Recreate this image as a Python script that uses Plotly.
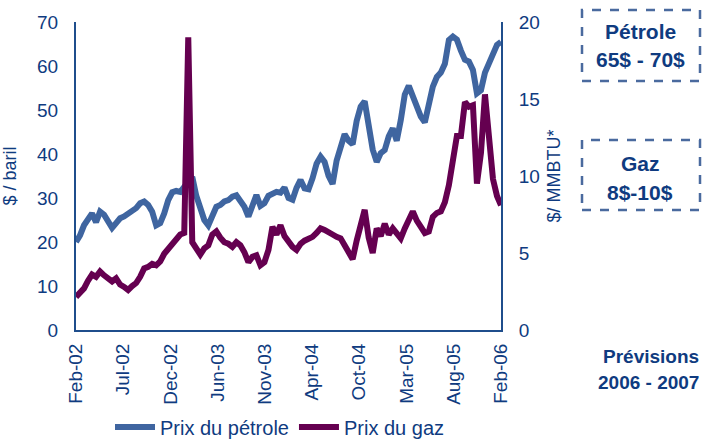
import plotly.graph_objects as go

# ---- data ----
tick_labels = ["Feb-02", "Jul-02", "Dec-02", "Jun-03", "Nov-03", "Apr-04",
               "Oct-04", "Mar-05", "Aug-05", "Feb-06"]

oil = [20.0, 21.5, 23.8, 25.2, 26.5, 24.5, 26.9, 26.2, 24.6, 23.2,
       24.3, 25.4, 25.8, 26.5, 26.9, 27.7, 28.8, 29.2, 28.4, 26.9,
       23.8, 24.3, 26.5, 29.5, 31.3, 31.6, 31.4, 32.4, 33.5, 34.8,
       30.5, 27.2, 25.0, 23.8, 26.4, 28.0, 28.4, 29.2, 29.5, 30.3,
       30.6, 29.5, 28.0, 25.8, 28.4, 30.7, 28.2, 28.8, 30.5, 31.1,
       31.4, 31.2, 32.4, 30.0, 29.6, 32.3, 34.1, 32.2, 32.0, 34.5,
       37.8, 39.4, 38.2, 35.0, 33.2, 38.5, 41.7, 44.5, 43.0, 42.2,
       47.5, 50.8, 52.0, 46.5, 41.0, 38.2, 40.2, 40.9, 44.0, 45.8,
       43.0, 47.7, 53.5, 55.5, 53.0, 51.0, 48.5, 47.2, 51.0, 55.3,
       57.5, 58.5, 60.5, 65.9, 66.7, 66.0, 63.5, 61.4, 61.0, 59.1,
       53.8, 54.5, 58.5, 60.6, 62.9, 64.8, 65.5]

gas = [2.15, 2.4, 2.7, 3.2, 3.6, 3.45, 3.8, 3.55, 3.3, 3.15,
       3.35, 2.95, 2.8, 2.6, 2.85, 3.05, 3.45, 4.0, 4.1, 4.3,
       4.2, 4.45, 4.95, 5.3, 5.6, 5.9, 6.2, 6.3, 19.0, 5.7,
       5.3, 4.9, 5.3, 5.5, 6.2, 6.4, 6.0, 5.7, 5.6, 5.4,
       5.7, 5.5, 5.05, 4.4, 4.75, 4.85, 4.2, 4.4, 5.2, 6.7,
       6.2, 6.8, 6.1, 5.7, 5.4, 5.2, 5.6, 5.8, 5.9, 6.05,
       6.3, 6.6, 6.5, 6.3, 6.2, 6.05, 5.95, 5.5, 5.1, 4.6,
       5.8, 6.7, 7.8, 6.0, 5.0, 6.6, 6.1, 6.9, 6.2, 6.6,
       6.2, 5.95, 6.6, 7.1, 7.7, 7.1, 6.6, 6.3, 6.4, 7.35,
       7.6, 7.7, 8.3, 9.4, 11.0, 12.6, 12.6, 14.8, 14.5, 14.6,
       9.5, 11.5, 15.3, 12.0, 9.8, 8.7, 8.1]

x = list(range(len(oil)))
n_int = len(tick_labels) - 1
tick_vals = [k * (len(oil) - 1) / n_int for k in range(len(tick_labels))]

NAVY = "#0F3B80"
OIL_C = "#3F65A0"
GAS_C = "#650050"
BOX_C = "#4A6A9E"
AXIS_C = "#1F4E8C"
FONT = "Liberation Sans, Arial, sans-serif"

W, H = 705, 442
L, R, T, B = 76, 204, 22, 112
pw, ph = W - L - R, H - T - B
def px(xp):
    return (xp - L) / pw
def py(yp):
    return (H - B - yp) / ph

fig = go.Figure()
fig.add_trace(go.Scatter(x=x, y=oil, mode="lines", name="Prix du pétrole",
                         line=dict(color=OIL_C, width=6)))
fig.add_trace(go.Scatter(x=x, y=gas, mode="lines", name="Prix du gaz",
                         yaxis="y2", line=dict(color=GAS_C, width=6)))

fig.update_layout(
    width=W, height=H,
    margin=dict(l=L, r=R, t=T, b=B, autoexpand=False),
    paper_bgcolor="white", plot_bgcolor="white",
    font=dict(family=FONT, color=NAVY, size=19),
    showlegend=True,
    legend=dict(orientation="h", x=px(110), xanchor="left", y=py(427), yanchor="middle",
                font=dict(size=20, color=NAVY), itemwidth=40, tracegroupgap=0,
                bgcolor="rgba(0,0,0,0)"),
    xaxis=dict(range=[0, len(oil) - 1], tickmode="array", tickvals=tick_vals,
               ticktext=tick_labels, tickangle=-90, showgrid=False, zeroline=False,
               showline=True, linecolor=AXIS_C, linewidth=2, ticks="",
               automargin=False, ticklabelstandoff=4,
               tickfont=dict(size=19, color=NAVY)),
    yaxis=dict(range=[0, 70], tickmode="linear", tick0=0, dtick=10, showgrid=False,
               zeroline=False, showline=True, linecolor=AXIS_C, linewidth=2,
               ticks="", ticklabelstandoff=12, automargin=False,
               title=dict(text="$ / baril", font=dict(size=18, color=NAVY), standoff=16),
               tickfont=dict(size=19, color=NAVY)),
    yaxis2=dict(range=[0, 20], tickmode="linear", tick0=0, dtick=5, overlaying="y",
                side="right", showgrid=False, zeroline=False, showline=True,
                linecolor=AXIS_C, linewidth=2, ticks="", ticklabelstandoff=12,
                automargin=False,
                title=dict(text="$/ MMBTU*", font=dict(size=18, color=NAVY), standoff=8),
                tickfont=dict(size=19, color=NAVY)),
)

# dashed forecast boxes
for (y0, y1) in [(10, 81), (140, 210)]:
    fig.add_shape(type="rect", xref="paper", yref="paper",
                  x0=px(582), x1=px(700), y0=py(y1), y1=py(y0),
                  line=dict(color=BOX_C, width=2.5, dash="dash"))

ann_style = dict(xref="paper", yref="paper", showarrow=False,
                 font=dict(family=FONT, size=21, color=NAVY), xanchor="center",
                 yanchor="middle")
fig.add_annotation(x=px(640), y=py(32), text="<b>Pétrole</b>", **ann_style)
fig.add_annotation(x=px(640), y=py(60), text="<b>65$ - 70$</b>", **ann_style)
fig.add_annotation(x=px(640), y=py(163), text="<b>Gaz</b>", **ann_style)
fig.add_annotation(x=px(640), y=py(192), text="<b>8$-10$</b>", **ann_style)
ann2 = dict(ann_style)
ann2["font"] = dict(family=FONT, size=19, color=NAVY)
ann2["xanchor"] = "right"
fig.add_annotation(x=px(701), y=py(356), text="<b>Prévisions</b>", **ann2)
fig.add_annotation(x=px(701), y=py(382), text="<b>2006 - 2007</b>", **ann2)

fig.write_html("out.html", config={"displayModeBar": False},
               post_script="document.body.style.margin='0';document.body.style.overflow='hidden';")
